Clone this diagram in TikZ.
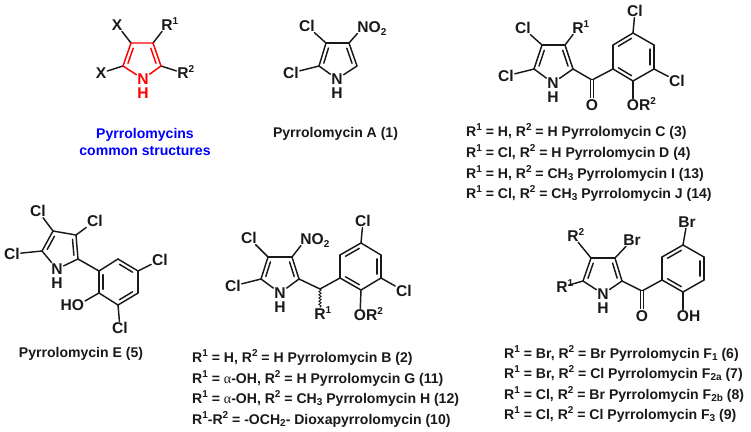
\documentclass[tikz,border=0pt]{standalone}
\usepackage{fontspec}
\setmainfont{Liberation Sans}
\newfontfamily\alphafont{Liberation Serif}
\usetikzlibrary{calc,decorations.pathmorphing}
\newcommand{\up}[1]{\smash{\raisebox{5.6pt}{\fontsize{10}{10}\selectfont #1}}}
\newcommand{\dn}[1]{\smash{\raisebox{-2.8pt}{\fontsize{10}{10}\selectfont #1}}}
\newcommand{\Aa}{{\alphafont\mdseries α}}
% single bond, and the inner (aromatic) line of a double bond
\newcommand{\bd}[2]{\draw[bond] (#1) -- (#2);}
\newcommand{\dbl}[3]{\draw[bond] ($(#1)!.17!(#2)!3.8pt!-#3:(#2)$) -- ($(#2)!.17!(#1)!3.8pt!#3:(#1)$);}
\newcommand{\pt}[3]{\coordinate (#1) at (#2,#3);}
\begin{document}
\begin{tikzpicture}[x=1pt,y=-1pt,
  bond/.style={line width=1.45pt,line cap=round,line join=round,draw=black!90},
  atom/.style={inner sep=0.8pt,font=\fontsize{15.6}{15.6}\selectfont\bfseries,text=black!90},
  capl/.style={anchor=base west,inner sep=0pt,font=\fontsize{14.05}{14.05}\selectfont\bfseries,text=black!90},
  capc/.style={anchor=base,inner sep=0pt,font=\fontsize{14.05}{14.05}\selectfont\bfseries,text=black!90},
  redbond/.style={bond,draw=red}]
\useasboundingbox (0,0) rectangle (751,431);

% ---- common structure
\pt{aC4}{131}{43}\pt{aC3}{153}{43}\pt{aC2}{161}{66}\pt{aC5}{123}{66}
\node[atom,text=red] (aN) at (143,79) {N};
\node[atom,text=red] (aH) at (143,93.5) {H};
\node[atom] (aX1) at (117,25) {X};
\node[atom] (aX2) at (101,73) {X};
\node[atom] (aR1) at (167,25) {R\rlap{\up{1}}};
\node[atom] (aR2) at (183,73) {R\rlap{\up{2}}};
\bd{aC4}{aX1}\bd{aC5}{aX2}\bd{aC3}{aR1}\bd{aC2}{aR2}
\draw[redbond] (aN) -- (aC5) -- (aC4) -- (aC3) -- (aC2) -- (aN);
\begin{scope}[bond/.append style={draw=red}]
\dbl{aC5}{aC4}{90}\dbl{aC3}{aC2}{90}
\end{scope}
\node[capc,text=blue] (aT1) at (145,138) {Pyrrolomycins};
\node[capc,text=blue] (aT2) at (145,155) {common structures};

% ---- pyrrolomycin A
\pt{bC4}{326}{43}\pt{bC3}{349}{43}\pt{bC2}{357}{66}\pt{bC5}{319}{66}
\node[atom] (bN) at (337,79) {N};
\node[atom] (bH) at (337,93.5) {H};
\node[atom] (bCl1) at (307,26) {Cl};
\node[atom] (bCl2) at (291,73) {Cl};
\node[atom] (bNO) at (363,27) {N\rlap{O\dn{2}}};
\bd{bC4}{bCl1}\bd{bC5}{bCl2}\bd{bC3}{bNO}
\bd{bN}{bC5}\bd{bC5}{bC4}\bd{bC4}{bC3}\bd{bC3}{bC2}\bd{bC2}{bN}
\dbl{bC5}{bC4}{90}\dbl{bC3}{bC2}{90}
\node[capc] (bT) at (335.5,137) {Pyrrolomycin A (1)};

% ---- pyrrolomycin C/D/I/J
\pt{cC4}{542}{45}\pt{cC3}{565}{45}\pt{cC2}{573}{69}\pt{cC5}{534}{69}
\pt{cCO}{592}{80}
\pt{cP1}{613}{69}\pt{cP2}{613}{45}\pt{cP3}{633}{33}\pt{cP4}{654}{45}\pt{cP5}{654}{69}\pt{cP6}{633}{81}
\node[atom] (cN) at (553,83) {N};
\node[atom] (cH) at (553,97) {H};
\node[atom] (cCl1) at (506,76) {Cl};
\node[atom] (cCl2) at (523,28) {Cl};
\node[atom] (cR1) at (578,28) {R\rlap{\up{1}}};
\node[atom] (cO) at (592,105) {O};
\node[atom] (cCl3) at (635,11) {Cl};
\node[atom] (cCl4) at (677,81) {Cl};
\node[atom] (cOR) at (633,105) {O\rlap{R\up{2}}};
\bd{cC5}{cCl1}\bd{cC4}{cCl2}\bd{cC3}{cR1}
\bd{cN}{cC5}\bd{cC5}{cC4}\bd{cC4}{cC3}\bd{cC3}{cC2}\bd{cC2}{cN}
\dbl{cC5}{cC4}{90}\dbl{cC3}{cC2}{90}
\bd{cC2}{cCO}\bd{cCO}{cP1}
\draw[bond,double=white,double distance=1.7pt,line width=1.2pt,line cap=butt] (cCO) -- (cO);
\bd{cP1}{cP2}\bd{cP2}{cP3}\bd{cP3}{cP4}\bd{cP4}{cP5}\bd{cP5}{cP6}\bd{cP6}{cP1}
\dbl{cP2}{cP3}{90}\dbl{cP4}{cP5}{90}\dbl{cP6}{cP1}{90}
\bd{cP3}{cCl3}\bd{cP5}{cCl4}\bd{cP6}{cOR}
\node[capl] (cL1) at (466,136) {R\up{1} = H, R\up{2} = H Pyrrolomycin C (3)};
\node[capl] (cL2) at (466,157) {R\up{1} = Cl, R\up{2} = H Pyrrolomycin D (4)};
\node[capl] (cL3) at (466,178) {R\up{1} = H, R\up{2} = CH\dn{3} Pyrrolomycin I (13)};
\node[capl] (cL4) at (466,198) {R\up{1} = Cl, R\up{2} = CH\dn{3} Pyrrolomycin J (14)};

% ---- pyrrolomycin E
\pt{dC4}{53}{231}\pt{dC3}{76}{235}\pt{dC2}{78}{259}\pt{dC5}{42}{251}
\pt{dP1}{99}{271}\pt{dP2}{118}{259}\pt{dP3}{138}{271}\pt{dP4}{138}{293}\pt{dP5}{118}{305}\pt{dP6}{99}{293}
\node[atom] (dN) at (57,269) {N};
\node[atom] (dH) at (57,283) {H};
\node[atom] (dCl1) at (38,211) {Cl};
\node[atom] (dCl2) at (95,221) {Cl};
\node[atom] (dCl3) at (12,254) {Cl};
\node[atom] (dCl4) at (160,260) {Cl};
\node[atom] (dCl5) at (120,328) {Cl};
\node[atom] (dHO) at (78,305) {\llap{H}O};
\bd{dC4}{dCl1}\bd{dC3}{dCl2}\bd{dC5}{dCl3}
\bd{dN}{dC5}\bd{dC5}{dC4}\bd{dC4}{dC3}\bd{dC3}{dC2}\bd{dC2}{dN}
\dbl{dC5}{dC4}{90}\dbl{dC3}{dC2}{90}
\bd{dC2}{dP1}
\bd{dP1}{dP2}\bd{dP2}{dP3}\bd{dP3}{dP4}\bd{dP4}{dP5}\bd{dP5}{dP6}\bd{dP6}{dP1}
\dbl{dP2}{dP3}{90}\dbl{dP4}{dP5}{90}\dbl{dP6}{dP1}{90}
\bd{dP3}{dCl4}\bd{dP5}{dCl5}\bd{dP6}{dHO}
\node[capc] (dT) at (81,357) {Pyrrolomycin E (5)};

% ---- pyrrolomycin B/G/H
\pt{eC4}{268}{257}\pt{eC3}{292}{257}\pt{eC2}{299}{279}\pt{eC5}{261}{279}
\pt{eCH}{320}{289}
\pt{eP1}{340}{278}\pt{eP2}{340}{255}\pt{eP3}{361}{243}\pt{eP4}{381}{255}\pt{eP5}{381}{278}\pt{eP6}{361}{290}
\node[atom] (eN) at (280,293) {N};
\node[atom] (eH) at (280,307) {H};
\node[atom] (eCl1) at (249,238) {Cl};
\node[atom] (eCl2) at (233,286) {Cl};
\node[atom] (eNO) at (306,239) {N\rlap{O\dn{2}}};
\node[atom] (eR1) at (320,314) {R\rlap{\up{1}}};
\node[atom] (eCl3) at (363,221) {Cl};
\node[atom] (eCl4) at (404,291) {Cl};
\node[atom] (eOR) at (360,315) {O\rlap{R\up{2}}};
\bd{eC4}{eCl1}\bd{eC5}{eCl2}\bd{eC3}{eNO}
\bd{eN}{eC5}\bd{eC5}{eC4}\bd{eC4}{eC3}\bd{eC3}{eC2}\bd{eC2}{eN}
\dbl{eC5}{eC4}{90}\dbl{eC3}{eC2}{90}
\bd{eC2}{eCH}\bd{eCH}{eP1}
\draw[line width=.9pt,draw=black!90,decorate,decoration={snake,amplitude=1.1pt,segment length=3.2pt}] (eCH) -- (eR1);
\bd{eP1}{eP2}\bd{eP2}{eP3}\bd{eP3}{eP4}\bd{eP4}{eP5}\bd{eP5}{eP6}\bd{eP6}{eP1}
\dbl{eP2}{eP3}{90}\dbl{eP4}{eP5}{90}\dbl{eP6}{eP1}{90}
\bd{eP3}{eCl3}\bd{eP5}{eCl4}\bd{eP6}{eOR}
\node[capl] (eL1) at (192,362) {R\up{1} = H, R\up{2} = H Pyrrolomycin B (2)};
\node[capl] (eL2) at (192,383) {R\up{1} = \Aa-OH, R\up{2} = H Pyrrolomycin G (11)};
\node[capl] (eL3) at (192,403) {R\up{1} = \Aa-OH, R\up{2} = CH\dn{3} Pyrrolomycin H (12)};
\node[capl] (eL4) at (192,424) {R\up{1}-R\up{2} = -OCH\dn{2}- Dioxapyrrolomycin (10)};

% ---- pyrrolomycin F
\pt{fC4}{591}{258}\pt{fC3}{615}{258}\pt{fC2}{622}{281}\pt{fC5}{583}{281}
\pt{fCO}{642}{291}
\pt{fP1}{662}{280}\pt{fP2}{662}{257}\pt{fP3}{683}{245}\pt{fP4}{704}{257}\pt{fP5}{704}{280}\pt{fP6}{683}{292}
\node[atom] (fN) at (603,294) {N};
\node[atom] (fH) at (603,308) {H};
\node[atom] (fR2) at (573,236) {R\rlap{\up{2}}};
\node[atom] (fBr1) at (632,240) {Br};
\node[atom] (fR1) at (562,287) {R\rlap{\up{1}}};
\node[atom] (fO) at (642,316) {O};
\node[atom] (fBr2) at (687,222) {Br};
\node[atom] (fOH) at (683,316) {O\rlap{H}};
\bd{fC4}{fR2}\bd{fC3}{fBr1}\bd{fC5}{fR1}
\bd{fN}{fC5}\bd{fC5}{fC4}\bd{fC4}{fC3}\bd{fC3}{fC2}\bd{fC2}{fN}
\dbl{fC5}{fC4}{90}\dbl{fC3}{fC2}{90}
\bd{fC2}{fCO}\bd{fCO}{fP1}
\draw[bond,double=white,double distance=1.7pt,line width=1.2pt,line cap=butt] (fCO) -- (fO);
\bd{fP1}{fP2}\bd{fP2}{fP3}\bd{fP3}{fP4}\bd{fP4}{fP5}\bd{fP5}{fP6}\bd{fP6}{fP1}
\dbl{fP2}{fP3}{90}\dbl{fP4}{fP5}{90}\dbl{fP6}{fP1}{90}
\bd{fP3}{fBr2}\bd{fP6}{fOH}
\node[capl] (fL1) at (504,358) {R\up{1} = Br, R\up{2} = Br Pyrrolomycin F\dn{1} (6)};
\node[capl] (fL2) at (504,378) {R\up{1} = Br, R\up{2} = Cl Pyrrolomycin F\dn{2a} (7)};
\node[capl] (fL3) at (504,399) {R\up{1} = Cl, R\up{2} = Br Pyrrolomycin F\dn{2b} (8)};
\node[capl] (fL4) at (504,419) {R\up{1} = Cl, R\up{2} = Cl Pyrrolomycin F\dn{3} (9)};
\end{tikzpicture}
\end{document}
